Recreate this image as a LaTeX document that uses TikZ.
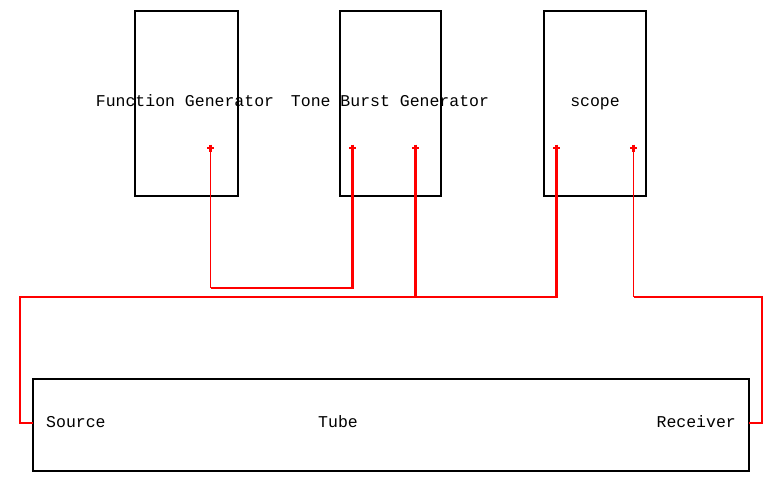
\documentclass[tikz,border=0pt]{standalone}
\usepackage{fontspec}
\setmonofont{Liberation Mono}
\usetikzlibrary{calc}
\tikzset{
  box/.style={draw=black, line width=2.3pt, inner sep=0pt},
  lbl/.style={font=\ttfamily\fontsize{16.5}{16.5}\selectfont, inner sep=0pt, anchor=base},
  wire/.style={draw=red, line width=2.3pt},
  thinwire/.style={draw=red, line width=1.4pt},
  port/.style={inner sep=0pt, minimum size=0pt},
  portmark/.style={draw=red, line width=2.6pt},
}
\begin{document}
\begin{tikzpicture}[x=1pt, y=-1pt]
\useasboundingbox (0,0) rectangle (783,484);
% instrument boxes
\node[box, minimum width=103pt, minimum height=185pt] (fg) at (186.5,103.5) {};
\node[box, minimum width=101pt, minimum height=185pt] (tb) at (390.2,103.5) {};
\node[box, minimum width=102pt, minimum height=185pt] (sc) at (595.2,103.5) {};
\node[box, minimum width=716pt, minimum height=92pt] (tube) at (391,424.8) {};
% labels
\node[lbl] (fgl) at (185,106.5) {Function Generator};
\node[lbl] (tbl) at (390,106.5) {Tone Burst Generator};
\node[lbl] (scl) at (595,106.5) {scope};
\node[lbl, anchor=base west] (src) at (46,427.5) {Source};
\node[lbl] (tubel) at (338,427.5) {Tube};
\node[lbl, anchor=base east] (rcv) at (736,427.5) {Receiver};
% ports
\node[port] (fgp) at (210.5,148) {};
\node[port] (tbp1) at (352.5,148) {};
\node[port] (tbp2) at (415.5,148) {};
\node[port] (scp1) at (556.5,148) {};
\node[port] (scp2) at (633.5,148) {};
% routing coordinates
\coordinate (bus1) at (0,288);
\coordinate (bus2) at (0,297);
\coordinate (lx) at (20,0);
\coordinate (rx) at (762,0);
\coordinate (srcpt) at (33,423);
\coordinate (rcvpt) at (749,423);
% wires
\draw[thinwire] (fgp) -- (fgp |- bus1);
\draw[wire] (fgp |- bus1) -- (tbp1 |- bus1) -- (tbp1);
\draw[wire] (tbp2) -- (tbp2 |- bus2);
\draw[wire] (scp1) -- (scp1 |- bus2) -- (lx |- bus2) -- (lx |- srcpt) -- (srcpt);
\draw[thinwire] (scp2) -- (scp2 |- bus2);
\draw[wire] (scp2 |- bus2) -- (rx |- bus2) -- (rx |- rcvpt) -- (rcvpt);
% port marks
\foreach \p in {fgp,tbp1,tbp2,scp1,scp2}{
  \draw[portmark] ($(\p)+(-3.5,0)$) -- ($(\p)+(3.5,0)$) ($(\p)+(0,-3.5)$) -- ($(\p)+(0,3.5)$);
}
\end{tikzpicture}
\end{document}
